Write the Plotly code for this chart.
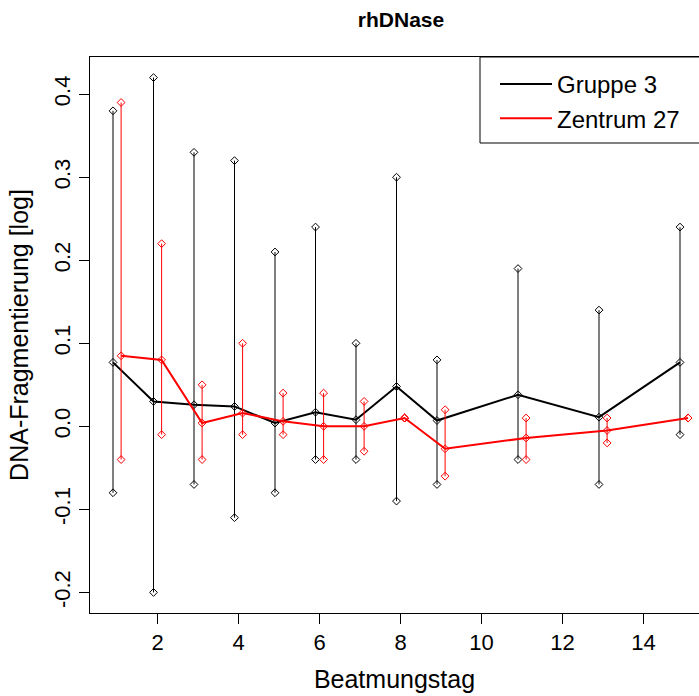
import plotly.graph_objects as go

# ---- data ----
days = [1, 2, 3, 4, 5, 6, 7, 8, 9, 11, 13, 15]
x_tick_vals = [2, 4, 6, 8, 10, 12, 14]
y_tick_vals = [-0.2, -0.1, 0.0, 0.1, 0.2, 0.3, 0.4]
y_tick_text = ["-0.2", "-0.1", "0.0", "0.1", "0.2", "0.3", "0.4"]

g3_mean = [0.077, 0.030, 0.026, 0.024, 0.004, 0.017, 0.008, 0.048, 0.007, 0.038, 0.011, 0.077]
g3_upper = [0.38, 0.42, 0.33, 0.32, 0.21, 0.24, 0.10, 0.30, 0.08, 0.19, 0.14, 0.24]
g3_lower = [-0.08, -0.20, -0.07, -0.11, -0.08, -0.04, -0.04, -0.09, -0.07, -0.04, -0.07, -0.01]

z27_mean = [0.085, 0.080, 0.004, 0.016, 0.006, 0.000, 0.000, 0.010, -0.027, -0.014, -0.005, 0.010]
z27_upper = [0.39, 0.22, 0.05, 0.10, 0.04, 0.04, 0.03, 0.010, 0.02, 0.01, 0.01, 0.010]
z27_lower = [-0.04, -0.01, -0.04, -0.01, -0.01, -0.04, -0.03, 0.010, -0.06, -0.04, -0.02, 0.010]

series = [
    ("Gruppe 3", "black", -0.1, g3_mean, g3_upper, g3_lower),
    ("Zentrum 27", "red", 0.1, z27_mean, z27_upper, z27_lower),
]

FONT = "Liberation Sans, Arial, sans-serif"

fig = go.Figure()

for name, color, off, mean, up, lo in series:
    xs = [d + off for d in days]
    wx, wy = [], []
    for x, u, l in zip(xs, up, lo):
        wx += [x, x, None]
        wy += [l, u, None]
    fig.add_trace(go.Scatter(
        x=wx, y=wy, mode="lines+markers", showlegend=False,
        line=dict(color=color, width=1),
        marker=dict(symbol="diamond-open", size=6, color=color, line=dict(width=1)),
        hoverinfo="skip"))
    fig.add_trace(go.Scatter(
        x=xs, y=mean, mode="lines+markers", showlegend=False,
        line=dict(color=color, width=2),
        marker=dict(symbol="diamond-open", size=6, color=color, line=dict(width=1))))

for name, color, off, mean, up, lo in series:
    fig.add_trace(go.Scatter(
        x=[None], y=[None], mode="lines", name=name,
        line=dict(color=color, width=2)))

L, T, B = 90, 57, 83
W, H = 699, 696
plot_w = W - L
plot_h = H - T - B
x_left = 0.332
px_per_unit = 40.5
x_right = x_left + plot_w / px_per_unit

# legend frame (extends past the right edge, like the cropped reference)
fig.add_shape(type="rect", xref="paper", yref="paper",
              x0=(480 - L) / plot_w, x1=1.1,
              y0=(H - B - 143) / plot_h, y1=1.0,
              line=dict(color="black", width=1), fillcolor="rgba(0,0,0,0)")

fig.update_layout(
    width=W, height=H,
    margin=dict(l=L, r=0, t=T, b=B),
    paper_bgcolor="white", plot_bgcolor="white",
    font=dict(family=FONT, size=22, color="black"),
    title=dict(text="rhDNase", x=401 / W, xref="container", xanchor="center",
               y=1 - 20 / H, yref="container", yanchor="middle",
               font=dict(family=FONT, size=21, color="black", weight="bold")),
    showlegend=True,
    legend=dict(x=(495 - L) / plot_w, xanchor="left", y=1 - 5 / plot_h, yanchor="top",
                bgcolor="rgba(0,0,0,0)", borderwidth=0,
                font=dict(family=FONT, size=24, color="black"),
                itemwidth=52),
    xaxis=dict(range=[x_left, x_right], tickvals=x_tick_vals,
               ticks="outside", ticklen=10, tickcolor="black", tickwidth=1,
               showline=True, linecolor="black", linewidth=1, mirror=True,
               showgrid=False, zeroline=False,
               tickfont=dict(size=22),
               title=dict(text="Beatmungstag", font=dict(size=25), standoff=16)),
    yaxis=dict(range=[-0.2248, 0.4448], tickvals=y_tick_vals, ticktext=y_tick_text,
               tickangle=-90,
               ticks="outside", ticklen=10, tickcolor="black", tickwidth=1,
               showline=True, linecolor="black", linewidth=1, mirror=False,
               showgrid=False, zeroline=False,
               tickfont=dict(size=22),
               title=dict(text="DNA-Fragmentierung [log]", font=dict(size=25), standoff=14)),
)

fig.write_html("out.html")
